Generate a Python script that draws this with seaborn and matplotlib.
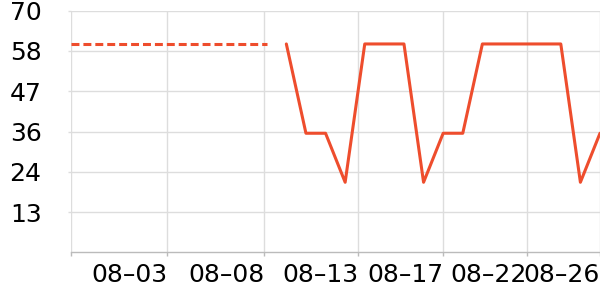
import matplotlib
matplotlib.use("Agg")
import matplotlib.pyplot as plt
import seaborn as sns
import pandas as pd
import numpy as np

# ---- data ----
days = list(range(28))  # 07-29 .. 08-25, one point per day
dashed_values = [60.5] * 11 + [np.nan] * 17
solid_values = [np.nan] * 11 + [60.5, 35, 35, 21, 60.5, 60.5, 60.5, 21,
                                35, 35, 60.5, 60.5, 60.5, 60.5, 60.5, 21, 35]
x_tick_pos = [0, 4.93, 9.88, 14.67, 19.01, 23.27, 27]
x_tick_labels = ["", "08–03", "08–08", "08–13", "08–17", "08–22", "08–26"]
y_tick_pos = [12.5, 24, 35.5, 47, 58.5, 70]
y_tick_labels = ["13", "24", "36", "47", "58", "70"]

df = pd.DataFrame({"day": days, "dashed": dashed_values, "solid": solid_values})

sns.set_style("white")
plt.rcParams["font.family"] = ["DejaVu Sans"]

fig = plt.figure(figsize=(6, 3), dpi=100)
ax = fig.add_axes([70.7 / 600, 1 - 252.3 / 300, 1 - 70.7 / 600, (252.3 - 10.7) / 300])

color = "#EE4D2D"
lw = 2.2
sns.lineplot(data=df, x="day", y="dashed", ax=ax, color=color, linewidth=lw,
             linestyle=(0, (2.6, 1.3)))
sns.lineplot(data=df, x="day", y="solid", ax=ax, color=color, linewidth=lw)

ax.set_xlim(0, 27)
ax.set_ylim(1, 70)
ax.set_xticks(x_tick_pos)
ax.set_xticklabels(x_tick_labels, ha="right")
ax.set_yticks(y_tick_pos)
ax.set_yticklabels(y_tick_labels)
ax.set_xlabel("")
ax.set_ylabel("")

ax.grid(True, color="#dddddd", linewidth=1.0)
ax.set_axisbelow(True)
for s in ["top", "right", "left"]:
    ax.spines[s].set_visible(False)
ax.spines["bottom"].set_color("#bbbbbb")
ax.spines["bottom"].set_linewidth(1.0)

ax.tick_params(axis="x", length=3, width=1, color="#bbbbbb", pad=5,
               labelsize=18, labelcolor="black", bottom=True)
ax.tick_params(axis="y", length=2, width=1, color="#dddddd", pad=19,
               labelsize=18, labelcolor="black", left=True)

fig.savefig("out.png", dpi=100)
